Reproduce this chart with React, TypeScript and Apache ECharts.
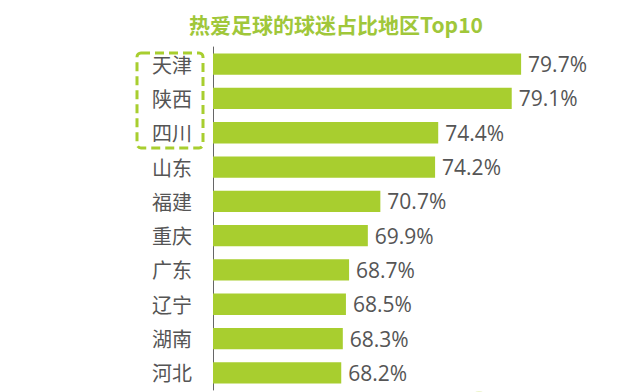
import React, { useEffect, useRef } from "react";
import * as echarts from "echarts";

const categories = ["天津", "陕西", "四川", "山东", "福建", "重庆", "广东", "辽宁", "湖南", "河北"];
const values = [79.7, 79.1, 74.4, 74.2, 70.7, 69.9, 68.7, 68.5, 68.3, 68.2];
const titleText = "热爱足球的球迷占比地区Top10";

export default function App() {
  const ref = useRef<HTMLDivElement>(null);
  useEffect(() => {
    if (!ref.current) return;
    const chart = echarts.init(ref.current, undefined, { renderer: "svg" });
    chart.setOption({
      animation: false,
      backgroundColor: "#ffffff",
      title: {
        text: titleText,
        left: 331,
        textAlign: "center",
        top: 8,
        textStyle: {
          color: "#A0C73A",
          fontSize: 21,
          fontWeight: "bold",
          fontFamily: "Noto Sans CJK SC",
        },
      },
      grid: { left: 213, right: 36, top: 47, bottom: 2, containLabel: false },
      xAxis: {
        type: "value",
        min: 60,
        max: 85,
        show: false,
      },
      yAxis: {
        type: "category",
        data: categories,
        inverse: true,
        axisLine: { show: true, lineStyle: { color: "#666666", width: 1 } },
        axisTick: { show: false },
        axisLabel: {
          color: "#555555",
          fontSize: 20,
          margin: 21,
          fontFamily: "Noto Sans CJK SC",
        },
        splitLine: { show: false },
      },
      series: [
        {
          type: "bar",
          data: values,
          barCategoryGap: "38%",
          itemStyle: { color: "#A8CE2F" },
          label: {
            show: true,
            position: "right",
            distance: 7,
            formatter: (p: any) => p.value.toFixed(1) + "%",
            color: "#555555",
            fontSize: 21,
            fontFamily: "Open Sans",
          },
        },
      ],
      graphic: [
        {
          type: "rect",
          shape: { x: 137, y: 53, width: 66, height: 95, r: 4 },
          style: {
            fill: "none",
            stroke: "#A8CE2F",
            lineWidth: 3,
            lineDash: [9, 5],
          },
        },
        {
          type: "circle",
          shape: { cx: 479, cy: 399, r: 8 },
          style: { fill: "#C8E06A", opacity: 0.35 },
        },
      ],
    });
    return () => chart.dispose();
  }, []);
  return <div ref={ref} style={{ width: 640, height: 392, position: "absolute", left: 0, top: 0 }} />;
}
